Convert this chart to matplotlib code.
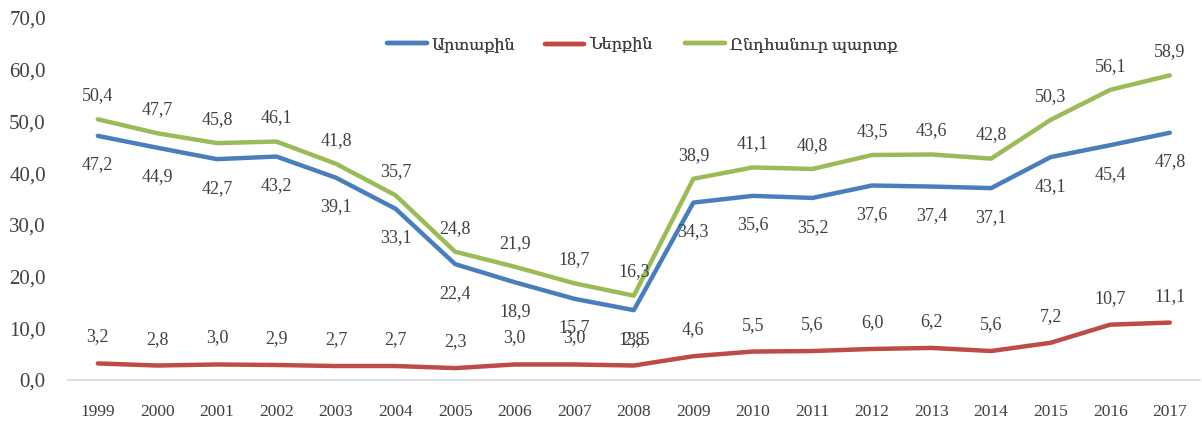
import matplotlib
matplotlib.use('Agg')
import matplotlib.pyplot as plt

years = ['1999', '2000', '2001', '2002', '2003', '2004', '2005', '2006', '2007', '2008',
         '2009', '2010', '2011', '2012', '2013', '2014', '2015', '2016', '2017']
external = [47.2, 44.9, 42.7, 43.2, 39.1, 33.1, 22.4, 18.9, 15.7, 13.5,
            34.3, 35.6, 35.2, 37.6, 37.4, 37.1, 43.1, 45.4, 47.8]
internal = [3.2, 2.8, 3.0, 2.9, 2.7, 2.7, 2.3, 3.0, 3.0, 2.8,
            4.6, 5.5, 5.6, 6.0, 6.2, 5.6, 7.2, 10.7, 11.1]
total = [50.4, 47.7, 45.8, 46.1, 41.8, 35.7, 24.8, 21.9, 18.7, 16.3,
         38.9, 41.1, 40.8, 43.5, 43.6, 42.8, 50.3, 56.1, 58.9]
names = ['Արտաքին', 'Ներքին', 'Ընդհանուր պարտք']

plt.rcParams['font.family'] = ['Liberation Serif', 'DejaVu Serif', 'DejaVu Sans']

colors = {'ext': '#4a7ebb', 'int': '#be4b48', 'tot': '#9bbb59'}
txt = '#404040'

def fmt(v):
    return f"{v:.1f}".replace('.', ',')

fig = plt.figure(figsize=(12.02, 4.21), dpi=100)
ax = fig.add_axes([0.0566, 0.0974, 0.9414, 0.86])
x = list(range(len(years)))

l1, = ax.plot(x, external, color=colors['ext'], lw=3.2, solid_capstyle='round')
l2, = ax.plot(x, internal, color=colors['int'], lw=3.2, solid_capstyle='round')
l3, = ax.plot(x, total, color=colors['tot'], lw=3.2, solid_capstyle='round')

for xi, v in zip(x, total):
    ax.annotate(fmt(v), (xi, v), xytext=(0, 17), textcoords='offset points',
                ha='center', va='center', fontsize=13, color=txt)
for xi, v in zip(x, external):
    ax.annotate(fmt(v), (xi, v), xytext=(0, -21), textcoords='offset points',
                ha='center', va='center', fontsize=13, color=txt)
for xi, v in zip(x, internal):
    ax.annotate(fmt(v), (xi, v), xytext=(0, 19), textcoords='offset points',
                ha='center', va='center', fontsize=13, color=txt)

ax.set_xlim(-0.5, len(years) - 0.5)
ax.set_ylim(0, 70)
ax.set_yticks(range(0, 71, 10))
ax.set_yticklabels([fmt(t) for t in range(0, 71, 10)])
ax.set_xticks(x)
ax.set_xticklabels(years)
ax.tick_params(axis='both', length=0, colors=txt)
ax.tick_params(axis='x', pad=17, labelsize=12.5)
ax.tick_params(axis='y', pad=16, labelsize=15)
for s in ['top', 'right', 'left']:
    ax.spines[s].set_visible(False)
ax.spines['bottom'].set_color('#d9d9d9')
ax.spines['bottom'].set_linewidth(1.2)

# legend entries placed one by one to match the spacing of the original
for h, name, xpos in zip([l1, l2, l3], names, [0.322, 0.453, 0.570]):
    leg = fig.legend(handles=[h], labels=[name], loc='center left',
                     bbox_to_anchor=(xpos, 0.893), frameon=False, fontsize=11.5,
                     handlelength=2.5, handletextpad=0.3, borderpad=0,
                     borderaxespad=0, labelcolor=txt)
    fig.add_artist(leg)

plt.savefig('out.png', dpi=100)
